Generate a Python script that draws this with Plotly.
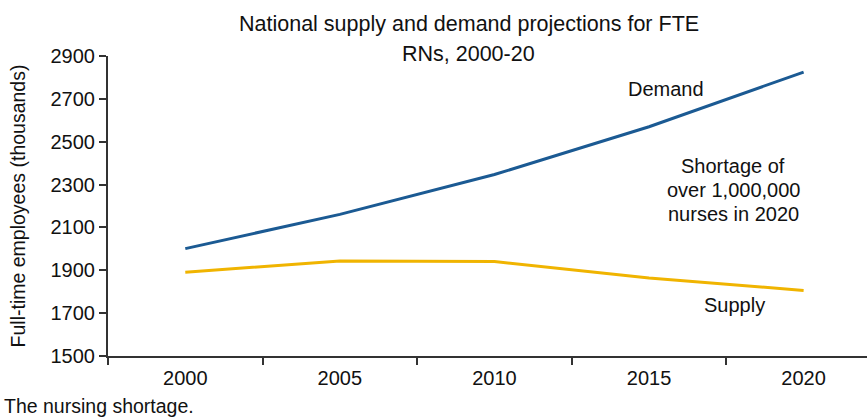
import plotly.graph_objects as go

years = ["2000", "2005", "2010", "2015", "2020"]
demand = [2001, 2161, 2347, 2570, 2825]
supply = [1891, 1943, 1941, 1864, 1806]
y_ticks = [1500, 1700, 1900, 2100, 2300, 2500, 2700, 2900]

FONT = "Liberation Sans, Arial, sans-serif"
BLUE = "#1b5a93"
GOLD = "#f0b400"
INK = "#111"

fig = go.Figure()
fig.add_trace(go.Scatter(x=years, y=demand, mode="lines", line=dict(color=BLUE, width=3), name="Demand"))
fig.add_trace(go.Scatter(x=years, y=supply, mode="lines", line=dict(color=GOLD, width=3), name="Supply"))

fig.update_layout(
    width=867, height=418,
    margin=dict(l=108, r=0, t=56, b=62),
    paper_bgcolor="white", plot_bgcolor="white",
    showlegend=False,
    font=dict(family=FONT, size=20, color=INK),
)
fig.update_xaxes(
    type="category", range=[-0.5, 4.41], tickson="boundaries",
    ticks="outside", ticklen=7, tickwidth=2, tickcolor="#333",
    showline=True, linecolor="#333", linewidth=2,
    showgrid=False, zeroline=False,
    tickfont=dict(size=20, family=FONT, color=INK),
    ticklabelstandoff=3,
)
fig.update_yaxes(
    range=[1500, 2900], tickvals=y_ticks,
    ticks="outside", ticklen=7, tickwidth=2, tickcolor="#333",
    showline=True, linecolor="#333", linewidth=2,
    showgrid=False, zeroline=False,
    tickfont=dict(size=20, family=FONT, color=INK),
    title=dict(text="Full-time employees (thousands)", font=dict(size=19.5, family=FONT, color=INK), standoff=20),
)

ann = dict(showarrow=False, font=dict(size=20, family=FONT, color=INK))
fig.add_annotation(text="National supply and demand projections for FTE", xref="paper", yref="paper",
                   x=0.4756, y=1.107, xanchor="center", yanchor="middle",
                   showarrow=False, font=dict(size=21.5, family=FONT, color=INK))
fig.add_annotation(text="RNs, 2000-20", xref="paper", yref="paper",
                   x=0.4756, y=1.008, xanchor="center", yanchor="middle",
                   showarrow=False, font=dict(size=21.5, family=FONT, color=INK))
fig.add_annotation(text="Demand", x=3.109, y=2746, xanchor="center", yanchor="middle", **ann)
fig.add_annotation(text="Shortage of", x=3.546, y=2387, xanchor="center", yanchor="middle", **ann)
fig.add_annotation(text="over 1,000,000", x=3.546, y=2275, xanchor="center", yanchor="middle", **ann)
fig.add_annotation(text="nurses in 2020", x=3.546, y=2163, xanchor="center", yanchor="middle", **ann)
fig.add_annotation(text="Supply", x=3.55, y=1738, xanchor="center", yanchor="middle", **ann)
fig.add_annotation(text="The nursing shortage.", xref="paper", yref="paper",
                   x=-0.1397, y=-0.165, xanchor="left", yanchor="middle",
                   showarrow=False, font=dict(size=19.5, family=FONT, color=INK))

fig.write_html("out.html")
